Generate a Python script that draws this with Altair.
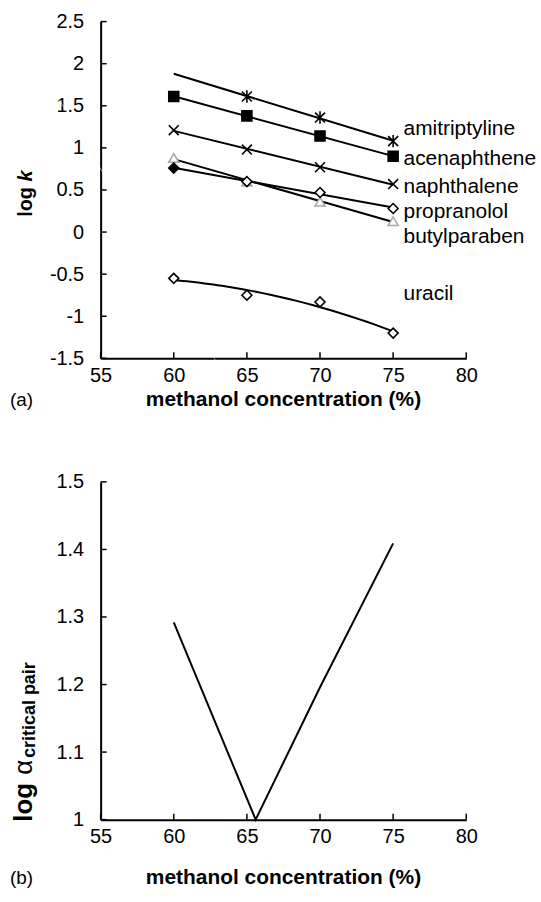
import altair as alt
import pandas as pd

FONT = "Liberation Sans"

# ---------------- data ----------------
methanol = [60, 65, 70, 75]
series_names = ["amitriptyline", "acenaphthene", "naphthalene",
                "propranolol", "butylparaben", "uracil"]
amitriptyline = [None, 1.61, 1.36, 1.08]
acenaphthene = [1.61, 1.38, 1.14, 0.90]
naphthalene = [1.21, 0.98, 0.77, 0.57]
propranolol = [0.76, 0.60, 0.47, 0.28]
butylparaben = [0.88, 0.60, 0.36, 0.13]
uracil = [-0.55, -0.75, -0.83, -1.20]

alpha_x = [60, 65.6, 70, 75]
alpha_y = [1.292, 1.0, 1.196, 1.409]

x_ticks = [55, 60, 65, 70, 75, 80]
logk_ticks = [-1.5, -1, -0.5, 0, 0.5, 1, 1.5, 2, 2.5]
alpha_ticks = [1.0, 1.1, 1.2, 1.3, 1.4, 1.5]

# ---------------- tables ----------------
rows = []
for name, vals in zip(series_names, [amitriptyline, acenaphthene, naphthalene,
                                     propranolol, butylparaben, uracil]):
    for x, y in zip(methanol, vals):
        if y is not None:
            rows.append({"series": name, "x": x, "y": y})
df = pd.DataFrame(rows)
df_alpha = pd.DataFrame({"x": alpha_x, "y": alpha_y})

W, H1, H2 = 367, 338, 339

xscale = alt.Scale(domain=[55, 80], nice=False, zero=False)
y1scale = alt.Scale(domain=[-1.5, 2.5], nice=False, zero=False)
y2scale = alt.Scale(domain=[1.0, 1.5], nice=False, zero=False)

def xaxis():
    return alt.Axis(values=x_ticks, ticks=False, tickSize=0, labelPadding=7,
                    domainColor="black", domainWidth=2, grid=False,
                    labelFont=FONT, labelFontSize=20, labelColor="black",
                    labelFlush=False, title="", labelExpr="'' + datum.value")

def yaxis(vals):
    return alt.Axis(values=vals, ticks=False, tickSize=0, labelPadding=17,
                    domainColor="black", domainWidth=2, grid=False,
                    labelFont=FONT, labelFontSize=20, labelColor="black",
                    labelFlush=False, title="", labelExpr="'' + datum.value")

def txt(s, x, y, size=20, weight="normal", style="normal", angle=0,
        align="left", baseline="middle"):
    return alt.Chart(pd.DataFrame({"t": [s]})).mark_text(
        font=FONT, fontSize=size, fontWeight=weight, fontStyle=style,
        angle=angle, align=align, baseline=baseline, color="black"
    ).encode(text="t:N", x=alt.value(x), y=alt.value(y))

# ---------------- panel (a) ----------------
base = alt.Chart(df)
X = alt.X("x:Q", scale=xscale, axis=xaxis())
Y1 = alt.Y("y:Q", scale=y1scale, axis=yaxis(logk_ticks))

# white canvas anchor so that the plot sits at (100, 19) in the page
anchor = alt.Chart(pd.DataFrame({"t": [0]})).mark_rule(
    color="white", strokeWidth=0.5
).encode(x=alt.value(-100), x2=alt.value(441), y=alt.value(-19), y2=alt.value(883))

lines = base.transform_filter("datum.series != 'uracil'").transform_regression(
    "x", "y", groupby=["series"], extent=[60, 75]
).mark_line(color="black", strokeWidth=2).encode(x=X, y=Y1, detail="series:N")

ura_line = base.transform_filter("datum.series == 'uracil'").transform_regression(
    "x", "y", method="poly", order=2, extent=[60, 75]
).mark_line(color="black", strokeWidth=2).encode(x=X, y=Y1)

asterisk = "M-1,-1L1,1M-1,1L1,-1M0,-1.25L0,1.25"
xmark = "M-1,-1L1,1M-1,1L1,-1"
shapes = [asterisk, "square", xmark, "diamond", "triangle-up", "diamond"]
fills = ["transparent", "black", "transparent", "white", "white", "white"]
strokes = ["black", "black", "black", "black", "#a8a8a8", "black"]
sizes = [100, 100, 100, 90, 70, 85]

def point_layer(filter_expr):
    return base.transform_filter(filter_expr).mark_point(opacity=1, strokeWidth=1.6).encode(
        x=X, y=Y1,
        shape=alt.Shape("series:N", scale=alt.Scale(domain=series_names, range=shapes), legend=None),
        fill=alt.Fill("series:N", scale=alt.Scale(domain=series_names, range=fills), legend=None),
        stroke=alt.Stroke("series:N", scale=alt.Scale(domain=series_names, range=strokes), legend=None),
        size=alt.Size("series:N", scale=alt.Scale(domain=series_names, range=sizes), legend=None),
    )

pts_under = point_layer("datum.series == 'butylparaben'")
pts_over = point_layer("datum.series != 'butylparaben'")

filled_diamond = base.transform_filter(
    "datum.series == 'propranolol' && datum.x == 60"
).mark_point(shape="diamond", filled=True, color="black", opacity=1, size=95).encode(x=X, y=Y1)

xt1 = alt.Chart(pd.DataFrame({"v": x_ticks})).mark_rule(color="black", strokeWidth=1.5).encode(
    x=alt.X("v:Q", scale=xscale, axis=xaxis()), y=alt.value(H1), y2=alt.value(H1 - 6))
yt1 = alt.Chart(pd.DataFrame({"v": logk_ticks})).mark_rule(color="black", strokeWidth=1.5).encode(
    y=alt.Y("v:Q", scale=y1scale, axis=yaxis(logk_ticks)), x=alt.value(0), x2=alt.value(6))

labels_a = [
    txt("amitriptyline", 304, 108, size=21),
    txt("acenaphthene", 304, 138, size=21),
    txt("naphthalene", 304, 166, size=21),
    txt("propranolol", 304, 191, size=21),
    txt("butylparaben", 304, 216, size=21),
    txt("uracil", 304, 273, size=21),
    txt("log ", -75, 196, size=20, weight="bold", angle=270),
    txt("k", -75, 160.5, size=20, weight="bold", style="italic", angle=270),
    txt("methanol concentration (%)", W / 2, 380, size=21, weight="bold", align="center"),
    txt("(a)", -91, 380, size=19),
]

panel_a = alt.layer(anchor, lines, ura_line, pts_under, pts_over, filled_diamond,
                    xt1, yt1, *labels_a).properties(width=W, height=H1)

# ---------------- panel (b) ----------------
X2 = alt.X("x:Q", scale=xscale, axis=xaxis())
Y2 = alt.Y("y:Q", scale=y2scale, axis=yaxis(alpha_ticks))

alpha_line = alt.Chart(df_alpha).mark_line(color="black", strokeWidth=2).encode(x=X2, y=Y2)
xt2 = alt.Chart(pd.DataFrame({"v": x_ticks})).mark_rule(color="black", strokeWidth=1.5).encode(
    x=alt.X("v:Q", scale=xscale, axis=xaxis()), y=alt.value(H2), y2=alt.value(H2 - 6))
yt2 = alt.Chart(pd.DataFrame({"v": alpha_ticks})).mark_rule(color="black", strokeWidth=1.5).encode(
    y=alt.Y("v:Q", scale=y2scale, axis=yaxis(alpha_ticks)), x=alt.value(0), x2=alt.value(6))

labels_b = [
    txt("log ", -77, 341, size=26, weight="bold", angle=270),
    txt("\u03b1", -77, 294, size=26, angle=270),
    txt("critical pair", -71, 277, size=18, weight="bold", angle=270),
    txt("methanol concentration (%)", W / 2, 398, size=21, weight="bold", align="center"),
    txt("(b)", -91, 398, size=19),
]

panel_b = alt.layer(alpha_line, xt2, yt2, *labels_b).properties(width=W, height=H2)

chart = alt.vconcat(panel_a, panel_b, spacing=124, bounds="flush").properties(
    padding=0
).configure_view(stroke="transparent")

chart.save("out.html", embed_options={"renderer": "svg", "actions": False})
